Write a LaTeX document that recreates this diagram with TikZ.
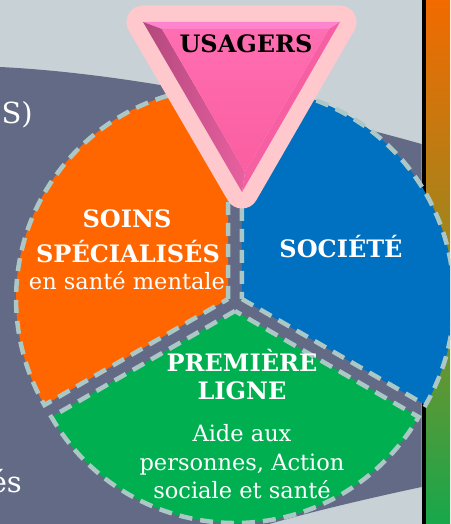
\documentclass[tikz,border=0pt]{standalone}
\usepackage{fontspec}
\setmainfont{DejaVu Serif}
\definecolor{bgc}{RGB}{200,209,214}
\definecolor{darkc}{RGB}{99,106,133}
\definecolor{orangec}{RGB}{255,102,0}
\definecolor{bluec}{RGB}{0,112,192}
\definecolor{greenc}{RGB}{0,176,80}
\definecolor{dashc}{RGB}{172,200,198}
\definecolor{pinkborder}{RGB}{255,200,205}
\definecolor{pinktop}{RGB}{255,132,208}
\definecolor{pinkleftA}{RGB}{178,72,124}
\definecolor{pinkleftB}{RGB}{232,96,160}
\definecolor{pinkright}{RGB}{246,96,162}
\definecolor{pinkmid}{RGB}{255,110,178}
\definecolor{pinklow}{RGB}{250,94,160}
\definecolor{gtop}{RGB}{242,106,0}
\definecolor{gmid}{RGB}{152,136,32}
\definecolor{gbot}{RGB}{22,168,76}
\begin{document}
\begin{tikzpicture}[x=1pt,y=1pt,
  sector/.style={fill=#1, draw=dashc, line width=4.5pt, dash pattern=on 13pt off 8pt},
  boldlbl/.style={text=white, font=\bfseries\fontsize{24}{28}\selectfont, inner sep=0pt, anchor=base},
  reglbl/.style={text=white, font=\fontsize{22.5}{27}\selectfont, inner sep=0pt, anchor=base},
  biglbl/.style={text=white, font=\fontsize{29}{32}\selectfont, inner sep=0pt}]
\useasboundingbox (0,0) rectangle (450,524);
\clip (0,0) rectangle (450,524);
% background
\fill[bgc] (0,0) rectangle (450,524);
% right gradient bar and black line
\shade[top color=gtop, bottom color=gbot, middle color=gmid] (426,0) rectangle (452,524);
\fill[black] (421.5,0) rectangle (426,524);
% dark band
\fill[darkc] (0,457) .. controls (140,450) and (300,414) .. (421.5,380)
  -- (421.5,37) .. controls (370,26) and (310,12) .. (262,-2) -- (-2,-2) -- cycle;
% text fragments on the band (cut by the picture's edge, as in the reference)
\node[biglbl, anchor=base east] (frag1) at (33,400) {IS)};
\node[biglbl, anchor=base east] (frag2) at (22,31) {és};
% pie sectors
\coordinate (co) at (228.07,225);
\coordinate (cb) at (241.93,225);
\coordinate (cg) at (235,213);
\path[sector=orangec] (co) -- ++(90:212) arc[start angle=90, end angle=210, radius=212] -- cycle;
\path[sector=bluec] (cb) -- ++(-30:212) arc[start angle=-30, end angle=90, radius=212] -- cycle;
\path[sector=greenc] (cg) -- ++(210:212) arc[start angle=210, end angle=330, radius=212] -- cycle;
% triangle
\coordinate (tA) at (143,502);
\coordinate (tB) at (340,502);
\coordinate (tT) at (242,332);
\coordinate (ta) at (162,495);
\coordinate (tb) at (329,495);
\coordinate (tt) at (245,352);
\draw[pinkborder, line width=33pt, line join=round] (tA) -- (tB) -- (tT) -- cycle;
\fill[pinktop] (tA) -- (tB) -- (tb) -- (ta) -- cycle;
\shade[left color=pinkleftA, right color=pinkleftB] (tA) -- (ta) -- (tt) -- (tT) -- cycle;
\fill[pinkright] (tB) -- (tT) -- (tt) -- (tb) -- cycle;
\shade[top color=pinkmid, bottom color=pinklow] (ta) -- (tb) -- (tt) -- cycle;
% labels
\node[boldlbl, text=black] (usagers) at (246,471) {USAGERS};
\node[boldlbl] (soins) at (127,296) {SOINS};
\node[boldlbl] (spec) at (128,261) {SPÉCIALISÉS};
\node[reglbl] (mentale) at (127,234) {en santé mentale};
\node[boldlbl] (societe) at (341,266) {SOCIÉTÉ};
\node[boldlbl] (premiere) at (242,152) {PREMIÈRE};
\node[boldlbl] (ligne) at (242,124) {LIGNE};
\node[reglbl] (aide) at (242,82) {Aide aux};
\node[reglbl] (pers) at (242,53) {personnes, Action};
\node[reglbl] (sociale) at (242,25) {sociale et santé};
\end{tikzpicture}
\end{document}
